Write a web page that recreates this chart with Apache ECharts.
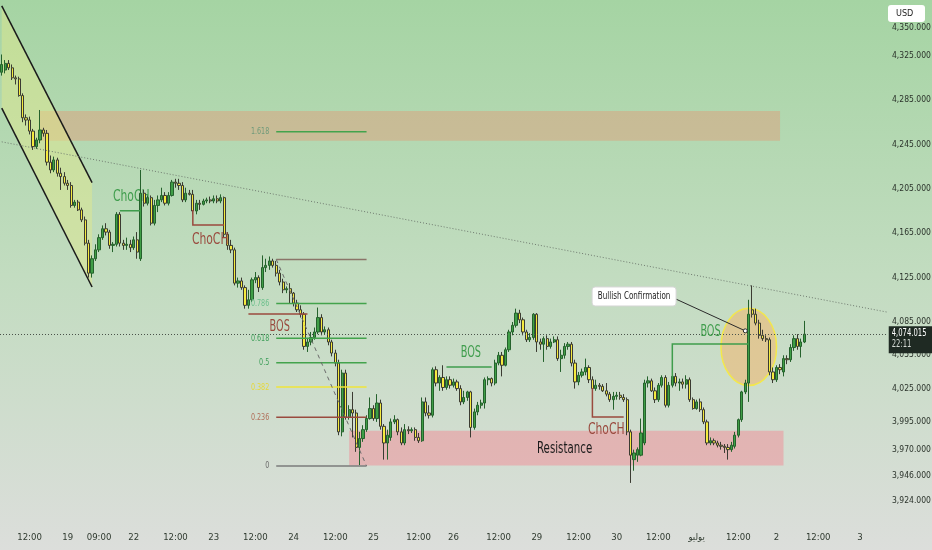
<!DOCTYPE html>
<html><head><meta charset="utf-8">
<script src="https://cdn.jsdelivr.net/npm/echarts@6/dist/echarts.min.js"></script>
<style>html,body{margin:0;padding:0;background:#d0dccf;}#c{width:932px;height:550px;}</style>
</head><body><div id="c"></div>
<script>
// ---- candle values (hourly, XAUUSD) ----
const opens = [
4310,4312,4318,4314,4305,4304,4289,4269,4267,4257,
4243,4249,4258,4255,4229,4222,4231,4219,4216,4210,
4208,4190,4193,4186,4177,4156,4129,4142,4150,4161,
4169,4166,4154,4155,4182,4156,4154,4155,4152,4159,
4142,4201,4192,4197,4174,4190,4195,4199,4192,4199,
4211,4210,4208,4195,4201,4200,4185,4192,4191,4194,
4195,4194,4196,4194,4197,4164,4154,4150,4120,4122,
4116,4100,4105,4123,4125,4116,4134,4136,4140,4136,
4129,4121,4114,4115,4111,4102,4096,4092,4063,4067,
4071,4076,4089,4076,4078,4067,4057,4048,3986,4039,
3999,4006,4003,3972,3980,3988,3998,4007,3998,4012,
3991,3976,3981,3995,3997,3986,3976,3988,3987,3988,
3981,3978,4013,4003,4001,4042,4030,4035,4026,4033,
4028,4031,4025,4013,4017,4022,3990,4004,4010,4012,
4033,4034,4030,4048,4055,4046,4060,4076,4082,4093,
4087,4076,4069,4071,4092,4067,4065,4070,4063,4067,
4069,4052,4055,4063,4065,4048,4031,4037,4040,4044,
4033,4025,4028,4027,4023,4020,4015,4018,4019,4017,
4015,3986,3961,3965,3965,3976,4030,4032,4023,4015,
4028,4035,4010,4028,4036,4030,4031,4029,4033,4015,
4007,4013,4006,3995,3976,3978,3976,3974,3973,3972,
3970,3973,3983,3997,4022,4030,4096,4092,4084,4073,
4070,4069,4040,4033,4044,4040,4052,4051,4062,4070,
4063,4067];
const closes = [
4317,4318,4314,4305,4304,4289,4269,4267,4257,4243,
4249,4258,4255,4229,4222,4231,4219,4216,4210,4208,
4190,4193,4186,4177,4156,4129,4142,4150,4161,4169,
4166,4154,4155,4182,4156,4154,4155,4152,4159,4148,
4201,4192,4197,4174,4190,4195,4199,4192,4199,4211,
4210,4208,4195,4201,4200,4185,4192,4191,4194,4195,
4194,4196,4194,4197,4164,4154,4150,4120,4122,4116,
4100,4105,4123,4125,4116,4134,4136,4140,4136,4129,
4121,4114,4115,4111,4102,4096,4092,4063,4067,4071,
4076,4089,4076,4078,4067,4057,4048,3986,4039,3999,
4006,4003,3972,3980,3988,3998,4007,3998,4012,3991,
3976,3983,3995,3997,3986,3976,3988,3987,3988,3981,
3978,4013,4003,4001,4042,4030,4035,4026,4033,4028,
4031,4025,4013,4017,4022,3990,4004,4010,4012,4033,
4034,4030,4048,4055,4046,4060,4076,4082,4093,4087,
4076,4069,4071,4092,4067,4065,4070,4063,4067,4069,
4052,4055,4063,4065,4048,4031,4037,4040,4044,4033,
4025,4028,4027,4023,4020,4015,4018,4019,4017,4015,
3986,3965,3967,3970,3985,4030,4032,4023,4015,4028,
4035,4010,4028,4036,4030,4031,4029,4033,4015,4007,
4013,4006,3995,3976,3978,3976,3974,3973,3972,3970,
3974,3983,3997,4022,4030,4092,4092,4084,4073,4070,
4069,4040,4033,4044,4042,4052,4051,4062,4070,4063,
4067,4074.015];
const lows = [
4307,4309,4312,4303,4299,4288,4265,4262,4254,4240,
4241,4246,4252,4226,4219,4220,4216,4204,4208,4204,
4188,4188,4185,4175,4154,4125,4125,4140,4148,4159,
4163,4151,4148,4153,4153,4150,4150,4148,4150,4142,
4140,4189,4190,4172,4172,4184,4193,4190,4190,4198,
4206,4204,4193,4193,4199,4182,4182,4186,4190,4192,
4192,4192,4192,4192,4161,4150,4147,4118,4116,4114,
4097,4097,4103,4120,4112,4114,4130,4132,4134,4126,
4118,4111,4111,4102,4099,4094,4089,4060,4058,4064,
4069,4074,4073,4074,4064,4054,4045,3983,3982,3997,
3997,3981,3968,3956,3977,3986,3997,3996,3995,3988,
3961,3961,3978,3993,3983,3974,3974,3984,3985,3978,
3976,3977,4000,3998,3999,4027,4023,4023,4024,4025,
4026,4023,4010,4011,4014,3981,3988,4001,4007,4007,
4028,4027,4028,4046,4036,4045,4058,4073,4080,4084,
4073,4067,4067,4069,4058,4060,4049,4060,4061,4066,
4050,4040,4052,4060,4045,4025,4028,4035,4037,4030,
4022,4023,4024,4022,4018,4013,4006,4015,4015,4013,
3983,3940,3951,3959,3964,3974,4026,4022,4012,4013,
4026,4008,4008,4026,4027,4023,4025,4025,4013,4006,
4006,4004,3993,3974,3974,3974,3972,3970,3967,3961,
3968,3971,3981,3995,4020,4013,4089,4082,4070,4068,
4067,4037,4030,4031,4038,4036,4047,4049,4059,4060,
4053,4066];
const highs = [
4326,4321,4321,4317,4307,4306,4291,4272,4270,4259,
4251,4276,4260,4258,4235,4234,4233,4224,4220,4213,
4211,4195,4195,4188,4180,4159,4145,4155,4164,4172,
4174,4168,4157,4184,4184,4159,4161,4159,4162,4166,
4222,4204,4199,4199,4195,4199,4206,4202,4202,4213,
4214,4214,4211,4206,4204,4204,4195,4195,4196,4197,
4198,4199,4199,4200,4198,4166,4159,4152,4125,4125,
4118,4114,4125,4130,4127,4145,4142,4144,4142,4140,
4132,4124,4117,4120,4112,4105,4100,4094,4070,4076,
4080,4098,4092,4081,4080,4069,4060,4051,4042,4042,
4010,4022,4006,3986,3992,4001,4017,4010,4020,4015,
3993,3988,3998,4001,3998,3990,3993,3991,3990,3990,
3985,4017,4017,4010,4044,4045,4037,4046,4036,4036,
4034,4033,4028,4023,4023,4023,4007,4013,4015,4035,
4036,4035,4051,4058,4058,4062,4078,4085,4097,4096,
4089,4078,4075,4093,4093,4070,4072,4073,4070,4072,
4072,4060,4066,4067,4067,4051,4040,4043,4052,4046,
4036,4033,4030,4029,4030,4022,4022,4022,4022,4020,
4017,3988,3970,3972,3998,4033,4036,4034,4026,4030,
4037,4037,4031,4042,4039,4034,4034,4037,4035,4017,
4015,4016,4008,3997,3981,3980,3978,3977,3975,3975,
3977,3986,3998,4023,4033,4105,4118,4097,4087,4078,
4073,4071,4044,4046,4047,4055,4055,4065,4073,4074,
4070,4086];

// ---- axes ----
const barSlots = 255;                       // hourly slots incl. empty future area
const tickIdx  = [8,19,28,38,50,61,73,84,96,107,120,130,143,154,166,177,189,200,212,223,235,247];
const tickText = ['12:00','19','09:00','22','12:00','23','12:00','24','12:00','25','12:00','26','12:00','29','12:00','30','12:00','يوليو','12:00','2','12:00','3'];
const yTicks   = [4350,4325,4285,4245,4205,4165,4125,4085,4055,4025,3995,3970,3946,3924];
const yMin = 3904.8, yMax = 4375.1;
const lastPrice = 4074.015;
const countdown = '22:11';
const currency = 'USD';

// ---- drawings (bar index, price) ----
const channelTop    = [[-0.5, 4369.8], [26.3, 4210.5]];
const channelBottom = [[-0.5, 4277.7], [26.3, 4116.5]];
const trendLine     = [[-0.5, 4247.3], [254.5, 4093.8]];
const upperZone     = [11, 224, 4275.2, 4248.2];
const resistZone    = [99.7, 224.8, 3987.0, 3955.8];
const resistLabel   = [162.1, 3970.6, 'Resistance'];
const fibRange      = [78.9, 104.8, 3955.3, 4141.4];    // x from, x to, price at 0, price at 1
const fibLevels     = [0, 0.236, 0.382, 0.5, 0.618, 0.786, 1, 1.618];
const fibText       = ['0', '0.236', '0.382', '0.5', '0.618', '0.786', '', '1.618'];
const fibDiagonal   = [[78.9, 4141.4], [104.5, 3955.3]];
const chochGreen    = {line: [[34.3, 4185.2], [40.4, 4185.2]], text: [32.0, 4197.2, 'ChoCH']};
const chochBrown1   = {line: [[55.3, 4186.0], [55.3, 4172.4], [64.3, 4172.4]], text: [60.2, 4158.9, 'ChoCH']};
const bosBrown      = {line: [[71.4, 4092.3], [87.8, 4092.3]], text: [79.8, 4080.5, 'BOS']};
const bosGreen1     = {line: [[127.6, 4044.5], [141.4, 4044.5]], text: [134.5, 4057.1, 'BOS']};
const chochBrown2   = {line: [[169.9, 4025.6], [169.9, 3999.4], [178.8, 3999.4]], text: [174.2, 3987.7, 'ChoCH']};
const bosGreen2     = {line: [[192.9, 4032.8], [192.9, 4065.2], [215.4, 4065.2]], text: [204.4, 4076.1, 'BOS']};
const circleMark    = [215.1, 4062.5, 7.9, 34.8];    // centre x, centre price, half-width (bars), half-height (price)
const callout       = {box: [181.7, 4108.0], from: [193.8, 4105.7], to: [214.2, 4077.0], text: 'Bullish Confirmation'};

const FONT = "'Liberation Sans Narrow','DejaVu Sans Condensed','DejaVu Sans',sans-serif";
const GREEN = '#3f9d4c', BROWN = '#9a4a3e';

const categories = Array.from({length: barSlots}, (_, i) => String(i));
const candles = opens.map((o, i) => [o, closes[i], lows[i], highs[i]]);
const fmt = v => v.toLocaleString('en-US', {minimumFractionDigits: 3, maximumFractionDigits: 3});

function pts(api, arr) { return arr.map(p => api.coord([p[0], p[1]])); }
function txt(api, t, color, size, align, sx) {
  const p = api.coord([t[0], t[1]]);
  return {type: 'text', x: p[0], y: p[1], scaleX: sx || 0.8,
          style: {text: t[2], x: 0, y: 0, fill: color, fontSize: size, fontFamily: FONT,
          align: align || 'center', verticalAlign: 'middle'}};
}
function poly(api, arr, color, w, dash) {
  return {type: 'polyline', shape: {points: pts(api, arr)}, style: {stroke: color, lineWidth: w, fill: null, lineDash: dash || null}};
}
function rectOf(api, z, fill) {
  const a = api.coord([z[0], z[2]]), b = api.coord([z[1], z[3]]);
  return {type: 'rect', shape: {x: a[0], y: a[1], width: b[0] - a[0], height: b[1] - a[1]}, style: {fill: fill}};
}

function renderUnder(params, api) {
  const ch = [];
  ch.push(rectOf(api, upperZone, 'rgba(222,160,124,0.5)'));
  ch.push(rectOf(api, resistZone, 'rgba(241,140,150,0.5)'));
  ch.push({type: 'polygon', shape: {points: pts(api, [channelTop[0], channelTop[1], channelBottom[1], channelBottom[0]])},
           style: {fill: 'rgba(226,232,140,0.48)'}});
  const c = api.coord([circleMark[0], circleMark[1]]);
  const ex = api.coord([circleMark[0] + circleMark[2], circleMark[1] + circleMark[3]]);
  ch.push({type: 'ellipse', shape: {cx: c[0], cy: c[1], rx: ex[0] - c[0], ry: c[1] - ex[1]},
           style: {fill: 'rgba(240,182,110,0.55)', stroke: '#f3e84a', lineWidth: 1.5}});
  ch.push(txt(api, chochGreen.text, GREEN, 15, 'left'));
  ch.push(txt(api, chochBrown2.text, BROWN, 15));
  return {type: 'group', children: ch};
}

function renderOver(params, api) {
  const ch = [];
  ch.push(poly(api, channelTop, '#1b1b1b', 1.5));
  ch.push(poly(api, channelBottom, '#1b1b1b', 1.5));
  ch.push(poly(api, trendLine, '#6f7a6f', 1, [1, 2]));
  const lineCol = ['#7b7b7b', '#9a4a3e', '#efe43a', '#43a34c', '#43a34c', '#43a34c', '#8a7468', '#43a34c'];
  const textCol = ['#6b6b6b', '#b0705a', '#e6d83a', '#3f9f5a', '#3f9f5a', '#6cc08c', '#8a7468', '#6f9a7a'];
  fibLevels.forEach((lv, k) => {
    const price = fibRange[2] + lv * (fibRange[3] - fibRange[2]);
    ch.push(poly(api, [[fibRange[0], price], [fibRange[1], price]], lineCol[k], 1.5));
    if (fibText[k]) ch.push(txt(api, [fibRange[0] - 1.7, price, fibText[k]], textCol[k], 9.5, 'right', 0.75));
  });
  ch.push(poly(api, fibDiagonal, '#6a6a6a', 1, [4, 4]));
  [chochGreen, bosGreen1, bosGreen2].forEach(s => ch.push(poly(api, s.line, GREEN, 1.5)));
  [chochBrown1, bosBrown, chochBrown2].forEach(s => ch.push(poly(api, s.line, BROWN, 1.5)));
  ch.push(txt(api, chochBrown1.text, BROWN, 15));
  ch.push(txt(api, bosBrown.text, BROWN, 15, 'center', 0.72));
  ch.push(txt(api, bosGreen1.text, GREEN, 15, 'center', 0.72));
  ch.push(txt(api, bosGreen2.text, GREEN, 15, 'center', 0.72));
  ch.push(txt(api, resistLabel, '#1a1a1a', 15, 'center', 0.76));
  // callout
  const f = api.coord(callout.from), t = api.coord(callout.to), b = api.coord(callout.box);
  ch.push({type: 'line', shape: {x1: f[0], y1: f[1], x2: t[0], y2: t[1]}, style: {stroke: '#2a2a2a', lineWidth: 1}});
  ch.push({type: 'circle', shape: {cx: t[0], cy: t[1], r: 2}, style: {fill: '#ffffff', stroke: '#2a2a2a', lineWidth: 1}});
  ch.push({type: 'rect', shape: {x: b[0] - 42, y: b[1] - 9.5, width: 84, height: 19, r: 3}, style: {fill: '#ffffff', stroke: '#d6d6d6', lineWidth: 1}});
  ch.push({type: 'text', x: b[0], y: b[1], scaleX: 0.76,
           style: {text: callout.text, x: 0, y: 0, fill: '#1e1e1e', fontSize: 10.5, fontFamily: FONT, align: 'center', verticalAlign: 'middle'}});
  // current price tag on the price scale
  const pp = api.coord([barSlots - 0.5, lastPrice]);
  ch.push({type: 'rect', shape: {x: pp[0] + 1, y: pp[1] - 8, width: 45, height: 27}, style: {fill: '#1f2a23'}});
  ch.push({type: 'text', x: pp[0] + 4, y: pp[1] - 1, scaleX: 0.76,
           style: {text: fmt(lastPrice), x: 0, y: 0, fill: '#ffffff', fontSize: 10, fontFamily: FONT, align: 'left', verticalAlign: 'middle'}});
  ch.push({type: 'text', x: pp[0] + 4, y: pp[1] + 10.5, scaleX: 0.76,
           style: {text: countdown, x: 0, y: 0, fill: '#d5dad5', fontSize: 10, fontFamily: FONT, align: 'left', verticalAlign: 'middle'}});
  return {type: 'group', children: ch};
}

const chart = echarts.init(document.getElementById('c'), null, {renderer: 'canvas'});
chart.setOption({
  animation: false,
  backgroundColor: {type: 'linear', x: 0, y: 0, x2: 0, y2: 1, colorStops: [
    {offset: 0, color: '#a5d4a3'}, {offset: 0.5, color: '#c2dcc0'}, {offset: 1, color: '#dcdedb'}]},
  grid: {left: 0, right: 46, top: 0, bottom: 28, containLabel: false, outerBoundsMode: 'none'},
  xAxis: {
    type: 'category', data: categories, boundaryGap: true,
    axisLine: {show: false}, axisTick: {show: false}, splitLine: {show: false},
    axisLabel: {
      interval: (idx) => tickIdx.indexOf(idx) >= 0,
      formatter: (v, idx) => { const k = tickIdx.indexOf(idx); return k >= 0 ? tickText[k] : ''; },
      color: '#2f3a2f', fontSize: 9.5, fontFamily: FONT, margin: 11
    }
  },
  yAxis: {
    type: 'value', position: 'right', min: yMin, max: yMax, scale: true,
    axisLine: {show: false}, axisTick: {show: false}, splitLine: {show: false},
    axisLabel: {customValues: yTicks, formatter: fmt, color: '#2b332b', fontSize: 8.5, fontFamily: FONT, margin: 6}
  },
  graphic: [{
    type: 'group', right: 7, top: 5,
    children: [
      {type: 'rect', shape: {x: 0, y: 0, width: 37, height: 17, r: 3}, style: {fill: '#ffffff'}},
      {type: 'text', style: {text: currency, x: 8, y: 8.5, fill: '#222', fontSize: 9, fontFamily: FONT, verticalAlign: 'middle'}}
    ]
  }],
  series: [
    {type: 'custom', name: 'under', renderItem: renderUnder, data: [[0, 4000]], z: 1, silent: true, clip: false},
    {
      type: 'candlestick', name: 'XAUUSD', data: candles, z: 3, barWidth: '78%',
      itemStyle: {color: '#3f9e46', color0: '#f5eb3f', borderColor: '#25622c', borderColor0: '#3b3b32', borderWidth: 1},
      markLine: {
        silent: true, symbol: ['none', 'none'], animation: false,
        lineStyle: {color: '#4a524a', type: [1, 2], width: 1},
        label: {show: false},
        data: [{yAxis: lastPrice}]
      }
    },
    {type: 'custom', name: 'over', renderItem: renderOver, data: [[0, 4000]], z: 5, silent: true, clip: false}
  ]
});
</script>
</body></html>
